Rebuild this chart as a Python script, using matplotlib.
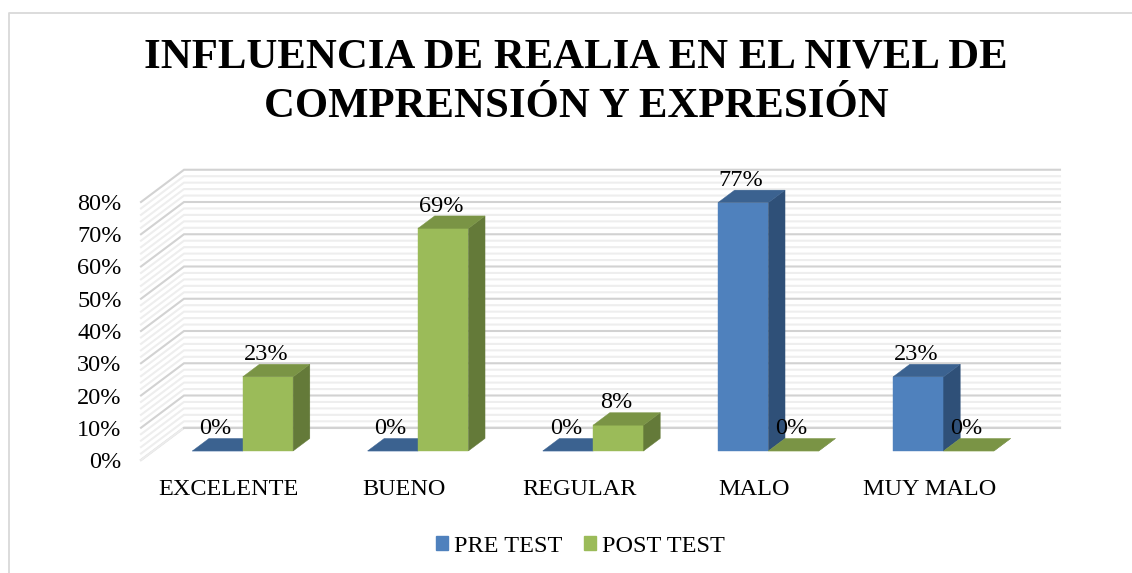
import matplotlib
matplotlib.use('Agg')
import matplotlib.pyplot as plt
from matplotlib.lines import Line2D
from matplotlib.patches import Polygon, Patch

W, H = 1132, 573

categories = ['EXCELENTE', 'BUENO', 'REGULAR', 'MALO', 'MUY MALO']
pre_test = [0, 0, 0, 77, 23]
post_test = [23, 69, 8, 0, 0]
y_ticks = [0, 10, 20, 30, 40, 50, 60, 70, 80]
minor_ticks = [v for v in range(0, 81, 2) if v % 10 != 0]

plt.rcParams['font.family'] = ['Liberation Serif', 'DejaVu Serif']

fig = plt.figure(figsize=(W / 100, H / 100), dpi=100)

# front plane of the fake 3d box, in pixels from the top left
left, right, top, bottom = 141, 1017, 202, 460
ax = fig.add_axes([left / W, 1 - bottom / H, (right - left) / W, (bottom - top) / H])
ax.set_xlim(-0.5, 4.5)
ax.set_ylim(0, 80)
ax.patch.set_visible(False)
for s in ax.spines.values():
    s.set_visible(False)

# one full step of depth moves this far in data units
depth_x = 43 / 175.2
depth_y = 10

bar_w = 0.2877
d0, d1 = 0.28, 0.668
shift = 0.012


def proj(x, y, d):
    return (x + d * depth_x, y + d * depth_y)


def grid(v, color, lw):
    xs = [-0.5, -0.5 + depth_x, 4.5 + depth_x]
    ys = [v, v + depth_y, v + depth_y]
    ax.plot(xs, ys, color=color, lw=lw, clip_on=False, zorder=1, solid_joinstyle='miter')


for v in minor_ticks:
    grid(v, '#eeeeee', 1.5)
for v in y_ticks:
    grid(v, '#d2d2d2', 1.5)
grid(0, '#ececec', 1.5)
ax.plot([-0.5 + depth_x, 4.5 + depth_x], [depth_y, depth_y], color='#d2d2d2', lw=1.5,
        clip_on=False, zorder=1)


def bar3d(x0, v, front, top_c, side):
    x1 = x0 + bar_w
    faces = [
        ([proj(x0, 0, d0), proj(x1, 0, d0), proj(x1, v, d0), proj(x0, v, d0)], front),
        ([proj(x1, 0, d0), proj(x1, 0, d1), proj(x1, v, d1), proj(x1, v, d0)], side),
        ([proj(x0, v, d0), proj(x1, v, d0), proj(x1, v, d1), proj(x0, v, d1)], top_c),
    ]
    for pts, c in faces:
        ax.add_patch(Polygon(pts, closed=True, facecolor=c, edgecolor=c, lw=0.3,
                             clip_on=False, zorder=2))
    lx, ly = proj(x0 + bar_w / 2, v, d0)
    ax.annotate(f'{v}%', (lx, v + d1 * depth_y), xytext=(-1.5, 7), textcoords='offset points',
                ha='center', va='center', fontsize=17.5, color='black', zorder=5,
                annotation_clip=False)


for i in range(len(categories)):
    bar3d(i + shift - bar_w, pre_test[i], '#4f81bd', '#3b6290', '#2f5078')
    bar3d(i + shift, post_test[i], '#9bbb59', '#7a9445', '#647a39')

ax.set_xticks(range(len(categories)))
ax.set_xticklabels(categories, fontsize=17.5)
ax.set_yticks(y_ticks)
ax.set_yticklabels([f'{v}%' for v in y_ticks], fontsize=17.5)
ax.tick_params(axis='both', length=0)
ax.tick_params(axis='x', pad=13.5)
ax.tick_params(axis='y', pad=14)

fig.text(575.5 / W, 1 - 58 / H, 'INFLUENCIA DE REALIA EN EL NIVEL DE', ha='center', va='center',
         fontsize=30.8, fontweight='bold')
fig.text(576 / W, 1 - 107 / H, 'COMPRENSIÓN Y EXPRESIÓN', ha='center', va='center',
         fontsize=30.8, fontweight='bold')

handles = [Patch(color='#4f81bd', label='PRE TEST'), Patch(color='#9bbb59', label='POST TEST')]
fig.legend(handles=handles, loc='center', bbox_to_anchor=(580.5 / W, 1 - 546 / H), ncol=2,
           frameon=False, fontsize=17.5, handlelength=0.5, handleheight=0.5,
           handletextpad=0.25, columnspacing=0.9)

# chart frame is cut off on the right and bottom
fig.add_artist(Line2D([8.5 / W, 8.5 / W, 1], [0, 1 - 13 / H, 1 - 13 / H], transform=fig.transFigure,
                      color='#d9d9d9', lw=1.3))

fig.savefig('out.png', dpi=100)
